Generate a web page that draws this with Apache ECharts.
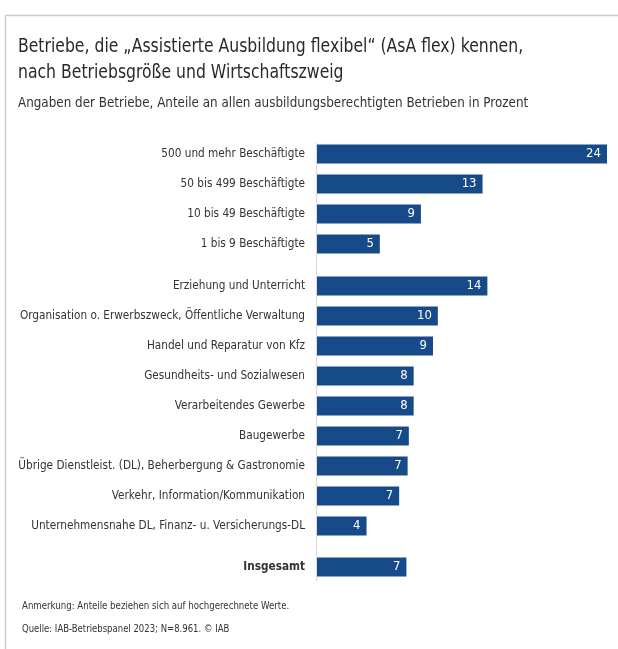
<!DOCTYPE html>
<html>
<head>
<meta charset="utf-8">
<script src="https://cdn.jsdelivr.net/npm/echarts@6/dist/echarts.min.js"></script>
<style>
  html, body { margin: 0; padding: 0; background: #ffffff; }
  #chart { width: 618px; height: 649px; }
</style>
</head>
<body>
<div id="chart"></div>
<script>
// ---- Data ----
const sizeCategories = ['500 und mehr Beschäftigte', '50 bis 499 Beschäftigte', '10 bis 49 Beschäftigte', '1 bis 9 Beschäftigte'];
const sizeValues = [24.0, 13.7, 8.6, 5.2];
const sizeLabels = ['24', '13', '9', '5'];

const branchCategories = [
  'Erziehung und Unterricht',
  'Organisation o. Erwerbszweck, Öffentliche Verwaltung',
  'Handel und Reparatur von Kfz',
  'Gesundheits- und Sozialwesen',
  'Verarbeitendes Gewerbe',
  'Baugewerbe',
  'Übrige Dienstleist. (DL), Beherbergung & Gastronomie',
  'Verkehr, Information/Kommunikation',
  'Unternehmensnahe DL, Finanz- u. Versicherungs-DL'
];
const branchValues = [14.1, 10.0, 9.6, 8.0, 8.0, 7.6, 7.5, 6.8, 4.1];
const branchLabels = ['14', '10', '9', '8', '8', '7', '7', '7', '4'];

const totalCategories = ['Insgesamt'];
const totalValues = [7.4];
const totalLabels = ['7'];

const titleText = 'Betriebe, die „Assistierte Ausbildung flexibel“ (AsA flex) kennen,\nnach Betriebsgröße und Wirtschaftszweig';
const subtitleText = 'Angaben der Betriebe, Anteile an allen ausbildungsberechtigten Betrieben in Prozent';
const noteText = 'Anmerkung: Anteile beziehen sich auf hochgerechnete Werte.';
const sourceText = 'Quelle: IAB-Betriebspanel 2023; N=8.961. © IAB';

// ---- Style ----
const FONT = "'DejaVu Sans Condensed', 'Roboto', sans-serif";
const BAR = '#174a88';
const TEXT = '#333333';
const XMAX = 24;

const chart = echarts.init(document.getElementById('chart'), null, { renderer: 'canvas' });

const groups = [
  { cats: sizeCategories, vals: sizeValues, labels: sizeLabels, top: 139, height: 120, bold: false },
  { cats: branchCategories, vals: branchValues, labels: branchLabels, top: 271, height: 270, bold: false },
  { cats: totalCategories, vals: totalValues, labels: totalLabels, top: 552, height: 30, bold: true }
];

const grid = groups.map(g => ({
  left: 317, right: 11, top: g.top, height: g.height,
  containLabel: false, outerBoundsMode: 'none'
}));
const xAxis = groups.map((g, i) => ({
  type: 'value', gridIndex: i, min: 0, max: XMAX, show: false
}));
const yAxis = groups.map((g, i) => ({
  type: 'category', gridIndex: i, data: g.cats, inverse: true,
  axisLine: { show: false }, axisTick: { show: false },
  axisLabel: { color: TEXT, fontFamily: FONT, fontSize: 11.7, margin: 12, fontWeight: g.bold ? 'bold' : 'normal' }
}));
const series = groups.map((g, i) => ({
  type: 'bar', xAxisIndex: i, yAxisIndex: i, data: g.vals, barWidth: 19,
  itemStyle: { color: BAR },
  label: {
    show: true, position: 'insideRight', distance: 6, color: '#ffffff',
    fontFamily: FONT, fontSize: 13,
    formatter: p => g.labels[p.dataIndex]
  },
  silent: true, animation: false
}));

chart.setOption({
  animation: false,
  backgroundColor: '#ffffff',
  grid, xAxis, yAxis, series,
  graphic: [
    { type: 'rect', shape: { x: 5.5, y: 15.5, width: 700, height: 700 },
      style: { fill: 'none', stroke: '#cccccc', lineWidth: 1.5 }, z: -1 },
    { type: 'line', shape: { x1: 316.5, y1: 143, x2: 316.5, y2: 581 },
      style: { stroke: '#dcdcdc', lineWidth: 1.2 } },
    { type: 'text', x: 18, y: 34, scaleX: 0.87,
      style: { text: titleText, font: '20px ' + FONT, fill: '#2a2a2a', lineHeight: 26 } },
    { type: 'text', x: 18, y: 96, scaleX: 0.95,
      style: { text: subtitleText, font: '14px ' + FONT, fill: TEXT } },
    { type: 'text', x: 22, y: 601, scaleX: 0.87,
      style: { text: noteText, font: '11px ' + FONT, fill: TEXT } },
    { type: 'text', x: 22, y: 624, scaleX: 0.86,
      style: { text: sourceText, font: '11px ' + FONT, fill: TEXT } }
  ]
});
</script>
</body>
</html>
